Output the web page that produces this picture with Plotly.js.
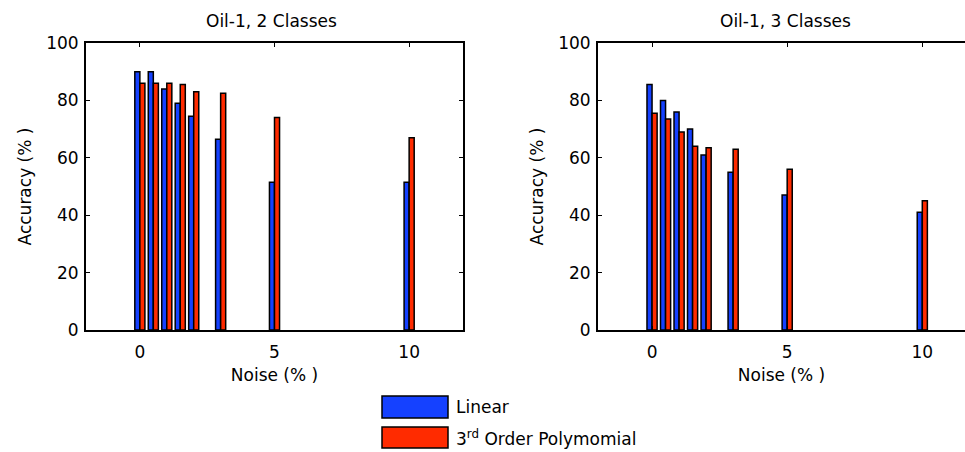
<!DOCTYPE html>
<html>
<head>
<meta charset="utf-8">
<script src="https://cdn.plot.ly/plotly-3.0.1.min.js"></script>
<style>html,body{margin:0;padding:0;background:#fff;}#chart{width:965px;height:452px;}</style>
</head>
<body>
<div id="chart"></div>
<script>
// Data
const noise = [0, 0.5, 1, 1.5, 2, 3, 5, 10];
const linear2 = [90, 90, 84, 79, 74.5, 66.5, 51.5, 51.5];
const poly2 = [86, 86, 86, 85.5, 83, 82.5, 74, 67];
const linear3 = [85.5, 80, 76, 70, 61, 55, 47, 41];
const poly3 = [75.5, 73.5, 69, 64, 63.5, 63, 56, 45];
const xTicks = [0, 5, 10];
const yTicks = [0, 20, 40, 60, 80, 100];
const titles = ["Oil-1, 2 Classes", "Oil-1, 3 Classes"];
const seriesNames = ["Linear", "3<sup>rd</sup> Order Polymomial"];

const BLUE = '#1541ff';
const RED = '#ff2b00';
const FONT = 'DejaVu Sans';

function bar(x, y, color, xa, ya, name) {
  return {type: 'bar', x: x, y: y, xaxis: xa, yaxis: ya, name: name,
    marker: {color: color, line: {color: '#000', width: 1.5}}, showlegend: false};
}

const data = [
  bar(noise, linear2, BLUE, 'x', 'y', 'Linear'),
  bar(noise, poly2, RED, 'x', 'y', '3rd Order Polymomial'),
  bar(noise, linear3, BLUE, 'x2', 'y2', 'Linear'),
  bar(noise, poly3, RED, 'x2', 'y2', '3rd Order Polymomial')
];

const W = 965, H = 452;
const plotTop = 43, plotBottom = 330;
const yDom = [(H - plotBottom) / H, (H - plotTop) / H];

function xax(domain, range, mirror) {
  return {domain: domain, range: range, tickvals: xTicks, ticks: 'inside', ticklen: 4, tickwidth: 1,
    tickcolor: '#000', showline: true, linewidth: 2, linecolor: '#000', mirror: mirror,
    showgrid: false, zeroline: false, ticklabelstandoff: 6,
    tickfont: {family: FONT, size: 17, color: '#000'},
    title: {text: 'Noise (% )', font: {family: FONT, size: 17, color: '#000'}, standoff: 8}};
}
function yax(domain, anchor, mirror) {
  return {domain: domain, anchor: anchor, range: [0, 100], tickvals: yTicks, ticks: 'inside', ticklen: 4,
    tickwidth: 1, tickcolor: '#000', showline: true, linewidth: 2, linecolor: '#000', mirror: mirror,
    showgrid: false, zeroline: false, ticklabelstandoff: 2,
    tickfont: {family: FONT, size: 17, color: '#000'},
    title: {text: 'Accuracy (% )', font: {family: FONT, size: 17, color: '#000'}, standoff: 10}};
}

const lx = [86 / W, 463 / W];
const rx = [598 / W, 1];

const layout = {
  width: W, height: H,
  margin: {l: 0, r: 0, t: 0, b: 0},
  paper_bgcolor: '#fff', plot_bgcolor: '#fff',
  barmode: 'group', bargap: 0.25, bargroupgap: 0,
  showlegend: false,
  xaxis: Object.assign(xax(lx, [-2, 12], 'ticks'), {anchor: 'y'}),
  yaxis: yax(yDom, 'x', 'ticks'),
  xaxis2: Object.assign(xax(rx, [-2, 11.58], 'ticks'), {anchor: 'y2'}),
  yaxis2: yax(yDom, 'x2', false),
  annotations: [
    {text: titles[0], xref: 'paper', yref: 'paper', x: 271 / W, y: (H - 21) / H, xanchor: 'center', yanchor: 'middle',
     showarrow: false, font: {family: FONT, size: 17, color: '#000'}},
    {text: titles[1], xref: 'paper', yref: 'paper', x: 785 / W, y: (H - 21) / H, xanchor: 'center', yanchor: 'middle',
     showarrow: false, font: {family: FONT, size: 17, color: '#000'}},
    {text: seriesNames[0], xref: 'paper', yref: 'paper', x: 454 / W, y: (H - 407) / H, xanchor: 'left', yanchor: 'middle',
     showarrow: false, font: {family: FONT, size: 17, color: '#000'}},
    {text: seriesNames[1], xref: 'paper', yref: 'paper', x: 454 / W, y: (H - 438) / H, xanchor: 'left', yanchor: 'middle',
     showarrow: false, font: {family: FONT, size: 17, color: '#000'}}
  ],
  shapes: [
    {type: 'rect', xref: 'paper', yref: 'paper', x0: 382 / W, x1: 448 / W, y0: (H - 418) / H, y1: (H - 396) / H,
     fillcolor: BLUE, line: {color: '#000', width: 1.5}},
    {type: 'rect', xref: 'paper', yref: 'paper', x0: 382 / W, x1: 448 / W, y0: (H - 448) / H, y1: (H - 427) / H,
     fillcolor: RED, line: {color: '#000', width: 1.5}}
  ]
};

Plotly.newPlot('chart', data, layout, {staticPlot: true, displayModeBar: false});
</script>
</body>
</html>
